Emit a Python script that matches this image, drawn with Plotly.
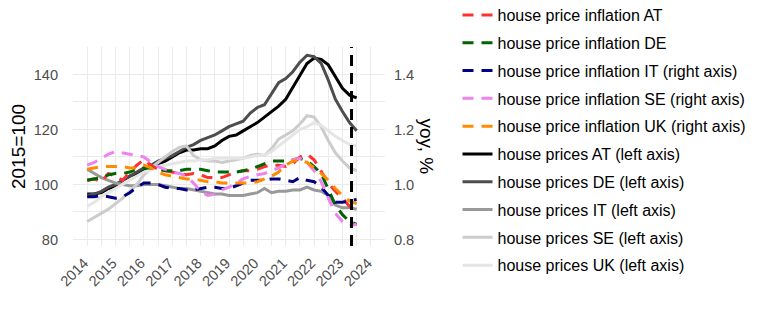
import plotly.graph_objects as go

# ---- data (quarterly, decimal years) ----
dates = [2014.0, 2014.25, 2014.5, 2014.75, 2015.0, 2015.25, 2015.5, 2015.75,
         2016.0, 2016.25, 2016.5, 2016.75, 2017.0, 2017.25, 2017.5, 2017.75,
         2018.0, 2018.25, 2018.5, 2018.75, 2019.0, 2019.25, 2019.5, 2019.75,
         2020.0, 2020.25, 2020.5, 2020.75, 2021.0, 2021.25, 2021.5, 2021.75,
         2022.0, 2022.25, 2022.5, 2022.75, 2023.0, 2023.25, 2023.5]

# house price indices, 2015=100 (left axis)
price_AT = [96.5, 96.5, 97.0, 98.5, 99.5, 101.5, 103, 104, 105.5, 106.5, 107.5, 108.5,
            110, 111.5, 112.5, 112.5, 113, 113, 114, 116, 117.5, 118, 119.5, 121,
            122.5, 124.5, 126.5, 128.5, 131, 135.5, 140, 144, 146, 145.5, 143.5, 139.5,
            135, 132.5, 131.5]
price_DE = [96, 96.5, 97.5, 99, 100, 101.5, 103, 104.5, 106, 107, 108.5, 109.5,
            110.5, 112, 113.5, 114.5, 116, 117, 118, 119.5, 121, 122, 123, 126,
            128, 129, 133, 137, 138.5, 141, 144.5, 147, 146.5, 144, 138, 131,
            126.5, 122.5, 119.5]
price_IT = [105.5, 104, 102.5, 101.5, 100.5, 100, 99.5, 99.5, 100, 100, 100, 99.5,
            99, 98.5, 98.5, 98, 97.5, 97, 96.5, 96.5, 96, 96, 96, 96.5,
            97, 98.5, 97, 97.5, 97.5, 98, 98, 99, 98, 97.5, 96, 92.5,
            91.5, 91.5, 91]
price_SE = [86.5, 88, 89.5, 91, 93, 95, 97.5, 100, 103.5, 106, 108, 110,
            112, 113.5, 114, 110.5, 109, 108.5, 108.5, 108, 108.5, 109, 109.5, 110.5,
            111, 110.5, 113, 116.5, 118, 119.5, 122, 125, 124.5, 121, 116, 111.5,
            108.5, 106, 105]
price_UK = [92, 93.5, 95.5, 97, 98.5, 100, 101.5, 103, 104.5, 105.5, 106.5, 107,
            107.5, 108, 108.5, 108.5, 109, 109, 109.5, 109.5, 109.5, 109.5, 109.5, 110,
            110.5, 110.5, 112, 114, 116, 118, 120, 121, 122.5, 121.5, 119.5, 117.5,
            116, 114.5, 114]

# house price inflation, yoy ratio (right axis)
infl_AT = [1.015, 1.02, 1.01, 1.04, 1.03, 1.015, 1.045, 1.07, 1.09, 1.07, 1.055, 1.05,
           1.045, 1.04, 1.035, 1.04, 1.035, 1.025, 1.025, 1.025, 1.035, 1.045, 1.05, 1.05,
           1.055, 1.065, 1.07, 1.07, 1.065, 1.075, 1.10, 1.11, 1.09, 1.045, 1.005, 0.975,
           0.95, 0.92, 0.915]
infl_DE = [1.015, 1.02, 1.025, 1.035, 1.04, 1.04, 1.045, 1.055, 1.06, 1.06, 1.055, 1.05,
           1.05, 1.05, 1.055, 1.055, 1.055, 1.05, 1.045, 1.045, 1.045, 1.045, 1.05, 1.055,
           1.065, 1.075, 1.085, 1.085, 1.085, 1.09, 1.095, 1.085, 1.065, 1.04, 0.98, 0.925,
           0.89, 0.865, 0.855]
infl_IT = [0.955, 0.955, 0.96, 0.955, 0.95, 0.955, 0.97, 0.99, 1.005, 1.005, 1.0, 0.99,
           0.985, 0.985, 0.98, 0.98, 0.985, 0.99, 0.99, 0.985, 0.985, 0.995, 1.005, 1.015,
           1.015, 1.015, 1.02, 1.02, 1.015, 1.01, 1.025, 1.015, 1.01, 0.99, 0.96, 0.935,
           0.935, 0.94, 0.945]
infl_SE = [1.07, 1.08, 1.095, 1.11, 1.12, 1.115, 1.11, 1.105, 1.10, 1.08, 1.065, 1.055,
           1.045, 1.04, 1.03, 1.005, 0.975, 0.96, 0.965, 0.98, 0.99, 1.005, 1.02, 1.03,
           1.035, 1.04, 1.05, 1.06, 1.075, 1.09, 1.095, 1.08, 1.05, 1.01, 0.95, 0.895,
           0.865, 0.85, 0.855]
infl_UK = [1.055, 1.06, 1.065, 1.065, 1.065, 1.065, 1.06, 1.06, 1.07, 1.06, 1.045, 1.035,
           1.03, 1.025, 1.02, 1.02, 1.015, 1.01, 1.01, 1.005, 1.005, 1.005, 1.005, 1.005,
           1.01, 1.02, 1.03, 1.045, 1.07, 1.085, 1.09, 1.08, 1.06, 1.04, 1.015, 0.985,
           0.96, 0.94, 0.93]

marker_date = 2023.32
year_ticks = [2014, 2015, 2016, 2017, 2018, 2019, 2020, 2021, 2022, 2023, 2024]
left_ticks = [80, 100, 120, 140]
right_ticks = [0.8, 1.0, 1.2, 1.4]

inflation = [
    ("house price inflation AT", infl_AT, "#ff3030"),
    ("house price inflation DE", infl_DE, "#006400"),
    ("house price inflation IT (right axis)", infl_IT, "#000080"),
    ("house price inflation SE (right axis)", infl_SE, "#ee82ee"),
    ("house price inflation UK (right axis)", infl_UK, "#ff8c00"),
]
prices = [
    ("house prices AT (left axis)", price_AT, "#000000"),
    ("house prices DE (left axis)", price_DE, "#4d4d4d"),
    ("house prices IT (left axis)", price_IT, "#999999"),
    ("house prices SE (left axis)", price_SE, "#cccccc"),
    ("house prices UK (left axis)", price_UK, "#e5e5e5"),
]

FONT = "Liberation Sans, Arial, sans-serif"
TICK = 14.6
fig = go.Figure()

# prices (drawn first, under)
for i, (name, vals, col) in enumerate(prices):
    fig.add_trace(go.Scatter(x=dates, y=vals, mode="lines", name=name,
                             line=dict(color=col, width=3),
                             legendgroup=name, legendrank=10 + i, yaxis="y"))
# inflation (right axis, drawn on top)
for i, (name, vals, col) in enumerate(inflation):
    fig.add_trace(go.Scatter(x=dates, y=vals, mode="lines", name=name,
                             line=dict(color=col, width=3, dash="11px,8px"),
                             legendgroup=name, legendrank=1 + i, yaxis="y2"))

fig.add_shape(type="line", xref="x", yref="paper", x0=marker_date, x1=marker_date,
              y0=0, y1=1, line=dict(color="black", width=3, dash="11px,7px"))

YR = [77.6, 150.0]
fig.update_layout(
    width=762, height=316,
    margin=dict(l=65, r=385, t=39, b=78, autoexpand=False),
    paper_bgcolor="white", plot_bgcolor="white",
    font=dict(family=FONT, size=14, color="#4d4d4d"),
    showlegend=True,
    legend=dict(x=(449.5 - 65) / 312, xanchor="left", y=(238.3 + 10) / 199.3, yanchor="top",
                font=dict(family=FONT, size=16, color="black"), maxheight=400,
                tracegroupgap=4, itemwidth=30, bgcolor="rgba(0,0,0,0)"),
    xaxis=dict(range=[2013.5, 2024.5], tickvals=year_ticks, tickangle=-45,
               showgrid=True, gridcolor="#ebebeb", gridwidth=1.3,
               minor=dict(tick0=2013.5, dtick=1, showgrid=True, gridcolor="#ebebeb", gridwidth=0.8),
               zeroline=False, showline=False, ticks="outside", ticklen=2,
               tickcolor="rgba(0,0,0,0)", tickfont=dict(size=TICK, color="#4d4d4d"),
               ticklabelshift=-3, automargin=False),
    yaxis=dict(range=YR, tickvals=left_ticks, showgrid=True, gridcolor="#ebebeb", gridwidth=1.3,
               minor=dict(tick0=70, dtick=20, showgrid=True, gridcolor="#ebebeb", gridwidth=0.8),
               zeroline=False, showline=False, ticks="outside", ticklen=11,
               tickcolor="rgba(0,0,0,0)", tickfont=dict(size=TICK, color="#4d4d4d"),
               title=dict(text="2015=100", font=dict(size=19, color="black"), standoff=6),
               automargin=False),
    yaxis2=dict(range=[YR[0] / 100, YR[1] / 100], overlaying="y", side="right",
                tickvals=right_ticks, tickformat=".1f", showgrid=False, zeroline=False,
                showline=False, ticks="outside", ticklen=5, tickcolor="rgba(0,0,0,0)",
                tickfont=dict(size=TICK, color="#4d4d4d"), automargin=False),
)

fig.add_annotation(text="yoy, %", textangle=90, xref="paper", yref="paper",
                   x=(418 - 65) / 312, y=0.5, xanchor="center", yanchor="middle",
                   showarrow=False, font=dict(family=FONT, size=19, color="black"))

fig.write_html("out.html")
